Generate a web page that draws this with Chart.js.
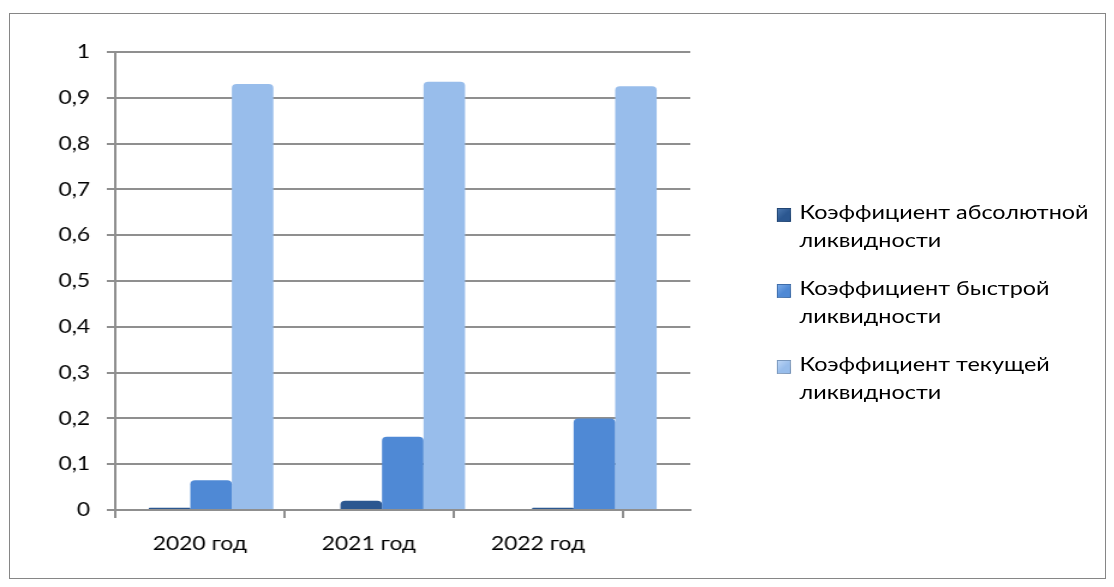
<!DOCTYPE html>
<html>
<head>
<meta charset="utf-8">
<script src="https://cdn.jsdelivr.net/npm/chart.js@4/dist/chart.umd.min.js"></script>
<style>
html,body{margin:0;padding:0;background:#fff;}
#page{position:relative;width:1114px;height:587px;overflow:hidden;}
/* the reference is stretched sideways: draw on a narrower canvas and widen it */
#wrap{position:absolute;left:0;top:0;width:928px;height:587px;transform:scaleX(1.2004);transform-origin:0 0;}
#legend{position:absolute;left:647px;top:198px;margin:0;padding:0;list-style:none;font-family:Lato,"Open Sans",sans-serif;font-size:19.5px;line-height:28px;color:#000;}
#legend li{position:relative;padding-left:19px;margin-bottom:20px;white-space:nowrap;}
#legend li span{position:absolute;left:0;top:10px;width:12px;height:14px;box-sizing:border-box;border:1px solid rgba(0,0,0,0.2);}
#frame{position:absolute;left:9px;top:13px;width:1097px;height:566px;border:1px solid #868686;box-sizing:border-box;pointer-events:none;}
</style>
</head>
<body>
<div id="page">
  <div id="wrap">
    <canvas id="chart" width="928" height="587"></canvas>
    <ul id="legend"></ul>
  </div>
  <div id="frame"></div>
</div>
<script>
const categories=["2020 год","2021 год","2022 год"];
const absoluteLiq=[0.005,0.02,0.005];
const quickLiq=[0.065,0.16,0.2];
const currentLiq=[0.93,0.935,0.925];
const seriesNames=[
  ["Коэффициент абсолютной","ликвидности"],
  ["Коэффициент быстрой","ликвидности"],
  ["Коэффициент текущей","ликвидности"]
];
const yTickLabels=["0","0,1","0,2","0,3","0,4","0,5","0,6","0,7","0,8","0,9","1"];
const xTickPos=[-0.5,0,0.5,1,1.5,2,2.5];

const FONT='Lato, "Open Sans", sans-serif';
const GRID="#8f8f8f";
const colors=["#2b5790","#4f89d5","#98bdeb"];
const lightColors=["#4a76ad","#7aa9e6","#bcd5f5"];

const ctx=document.getElementById("chart");
const chart=new Chart(ctx,{
  type:"bar",
  data:{
    labels:categories,
    datasets:[absoluteLiq,quickLiq,currentLiq].map((d,i)=>({
      label:seriesNames[i].join(" "),
      data:d,
      backgroundColor:colors[i],
      borderWidth:0,
      borderRadius:{topLeft:4,topRight:4},
      borderSkipped:"bottom",
      categoryPercentage:0.65,
      barPercentage:1.0
    }))
  },
  options:{
    responsive:false,
    animation:false,
    devicePixelRatio:1,
    layout:{padding:{left:0,top:52,right:353,bottom:27}},
    plugins:{
      tooltip:{enabled:false},
      legend:{display:false}
    },
    scales:{
      x:{type:"category",display:false},
      // label axis: category names sit where the reference prints them
      xl:{
        type:"linear",
        position:"bottom",
        min:-0.5,
        max:2.9,
        offset:false,
        afterBuildTicks:s=>{s.ticks=xTickPos.map(v=>({value:v}));},
        afterFit:s=>{s.height=50;},
        grid:{
          offset:false,
          drawOnChartArea:false,
          tickLength:8,
          lineWidth:2,
          tickColor:c=>Number.isInteger(c.tick&&c.tick.value)?"rgba(0,0,0,0)":GRID
        },
        border:{display:true,color:GRID,width:2},
        ticks:{
          autoSkip:false,
          maxRotation:0,
          padding:14,
          color:"#000",
          font:{family:FONT,size:19},
          callback:v=>Number.isInteger(v)?categories[v]:""
        }
      },
      y:{
        min:0,
        max:1,
        afterFit:s=>{s.width=96;},
        grid:{color:GRID,lineWidth:2,tickLength:7,tickColor:GRID},
        border:{display:true,color:GRID,width:2},
        ticks:{
          stepSize:0.1,
          padding:14,
          color:"#000",
          font:{family:FONT,size:19},
          callback:(v,i)=>yTickLabels[i]
        }
      }
    }
  }
});

// legend as html, built from the chart's datasets
const legendEl=document.getElementById("legend");
chart.data.datasets.forEach((ds,i)=>{
  const li=document.createElement("li");
  const box=document.createElement("span");
  box.style.background="linear-gradient(135deg,"+lightColors[i]+" 0%,"+ds.backgroundColor+" 55%)";
  li.appendChild(box);
  li.appendChild(document.createTextNode(seriesNames[i][0]));
  li.appendChild(document.createElement("br"));
  li.appendChild(document.createTextNode(seriesNames[i][1]));
  legendEl.appendChild(li);
});
</script>
</body>
</html>
